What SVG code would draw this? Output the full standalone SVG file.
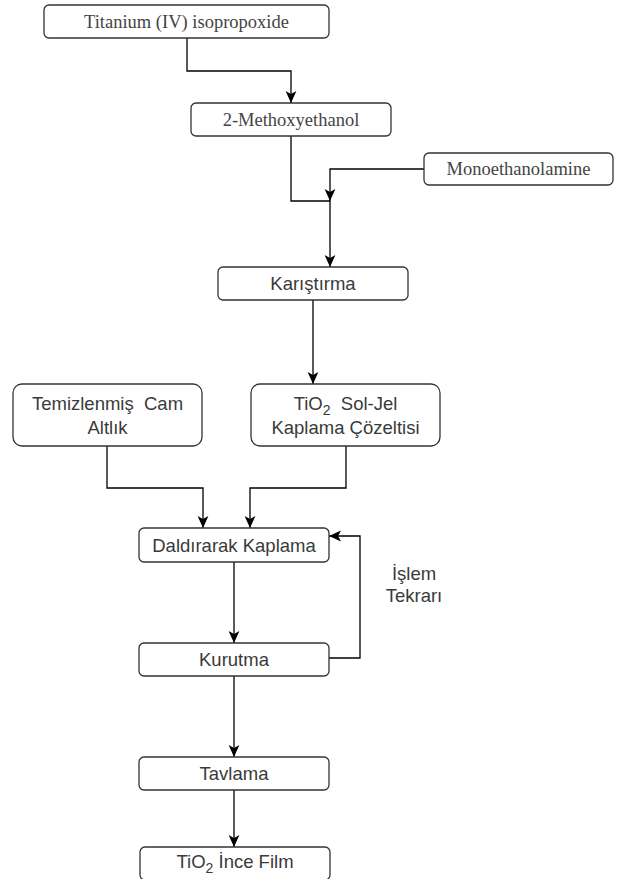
<svg xmlns="http://www.w3.org/2000/svg" width="617" height="879" viewBox="0 0 617 879">
<style>
.box{fill:#fff;stroke:#333;stroke-width:1.3}
.edge{fill:none;stroke:#000;stroke-width:1.3}
.serif{font-family:"Liberation Serif","Times New Roman",serif;font-size:18.5px;fill:#444;text-anchor:middle}
.sans{font-family:"Liberation Sans",Arial,sans-serif;font-size:18.5px;fill:#3a3a3a;text-anchor:middle}
.sub{font-size:14px}
</style>
<defs>
<marker id="arr" markerUnits="userSpaceOnUse" markerWidth="12" markerHeight="12" viewBox="0 0 10 10" refX="10" refY="5" orient="auto">
<path d="M0,0.5 L10,5 L0,9.5 L2.5,5 z" fill="#000"/>
</marker>
</defs>
<rect width="617" height="879" fill="#fff"/>
<g id="connectors">
<path class="edge" d="M187,38 V71 H291 V103" marker-end="url(#arr)"/>
<path class="edge" d="M291,136 V201 H330 V267" marker-end="url(#arr)"/>
<path class="edge" d="M424,169 H330 V201" marker-end="url(#arr)"/>
<path class="edge" d="M313,300 V384" marker-end="url(#arr)"/>
<path class="edge" d="M107,446 V488 H203 V528" marker-end="url(#arr)"/>
<path class="edge" d="M346,446 V488 H250 V528" marker-end="url(#arr)"/>
<path class="edge" d="M234,562 V643" marker-end="url(#arr)"/>
<path class="edge" d="M329,658 H360 V536 H329" marker-end="url(#arr)"/>
<path class="edge" d="M234,676 V757" marker-end="url(#arr)"/>
<path class="edge" d="M234,790 V847" marker-end="url(#arr)"/>
<g id="label-loop">
<text class="sans" x="414" y="580">İşlem</text>
<text class="sans" x="414" y="602">Tekrarı</text>
</g>
</g>
<g id="n1"><rect class="box" x="44" y="5" width="285" height="33" rx="5"/><text class="serif" x="186.5" y="28">Titanium (IV) isopropoxide</text></g>
<g id="n2"><rect class="box" x="191" y="103" width="200" height="33" rx="5"/><text class="serif" x="291" y="126">2-Methoxyethanol</text></g>
<g id="n3"><rect class="box" x="424" y="153" width="189" height="32" rx="5"/><text class="serif" x="518.5" y="175">Monoethanolamine</text></g>
<g id="n4"><rect class="box" x="218" y="267" width="190" height="33" rx="5"/><text class="sans" x="313" y="290">Karıştırma</text></g>
<g id="n5"><rect class="box" x="13" y="384" width="189" height="62" rx="9"/><text class="sans" x="107.5" y="410">Temizlenmiş&#160; Cam</text><text class="sans" x="107.5" y="434">Altlık</text></g>
<g id="n6"><rect class="box" x="251" y="384" width="189" height="62" rx="9"/><text class="sans" x="345.5" y="410">TiO<tspan class="sub" dy="5">2</tspan><tspan dy="-5">&#160; Sol-Jel</tspan></text><text class="sans" x="345.5" y="434">Kaplama Çözeltisi</text></g>
<g id="n7"><rect class="box" x="139" y="528" width="190" height="34" rx="5"/><text class="sans" x="234" y="552">Daldırarak Kaplama</text></g>
<g id="n8"><rect class="box" x="139" y="643" width="190" height="33" rx="5"/><text class="sans" x="234" y="666">Kurutma</text></g>
<g id="n9"><rect class="box" x="139" y="757" width="190" height="33" rx="5"/><text class="sans" x="234" y="780">Tavlama</text></g>
<g id="n10"><rect class="box" x="140" y="847" width="190" height="33" rx="5"/><text class="sans" x="235" y="868">TiO<tspan class="sub" dy="5">2</tspan><tspan dy="-5"> İnce Film</tspan></text></g>
</svg>
